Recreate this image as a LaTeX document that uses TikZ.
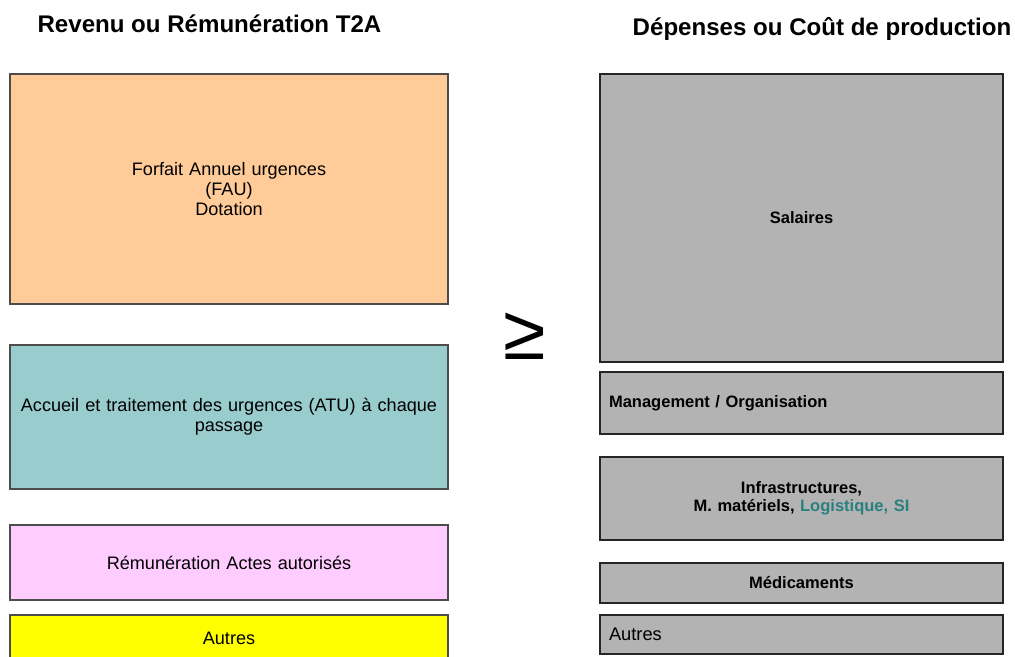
\documentclass[tikz,border=0pt]{standalone}
\usepackage{fontspec}
\setmainfont{Liberation Sans}
\usetikzlibrary{positioning}

\definecolor{fauorange}{HTML}{FFCC99}
\definecolor{atuteal}{HTML}{99CCCC}
\definecolor{actepink}{HTML}{FFCCFF}
\definecolor{autreyellow}{HTML}{FFFF00}
\definecolor{depgray}{HTML}{B3B3B3}
\definecolor{logteal}{HTML}{2A7F7F}

\begin{document}
\begin{tikzpicture}[
  recette/.style={draw=black!70, line width=0.6pt, minimum width=8.76cm,
    text width=8.6cm, align=center, inner sep=0pt,
    font=\fontsize{10.3}{11.4}\selectfont},
  depense/.style={draw=black!85, fill=depgray, line width=0.6pt,
    minimum width=8.06cm, text width=7.7cm, align=center,
    inner xsep=0.18cm, inner ysep=0pt,
    font=\bfseries\fontsize{9.4}{10.3}\selectfont},
  titre/.style={font=\bfseries\fontsize{13.7}{16}\selectfont}]
\useasboundingbox (0,0) rectangle (20.3,-13.14);

% titres
\node[titre] (revenu) at (4.19,-0.48) {Revenu ou Rémunération T2A};
\node[titre] (depenses) at (16.44,-0.58) {Dépenses ou Coût de production};

% recettes
\node[recette, fill=fauorange, minimum height=4.6cm] (fau) at (4.58,-3.78)
  {Forfait Annuel urgences\\(FAU)\\Dotation};
\node[recette, fill=atuteal, minimum height=2.88cm] (atu) at (4.58,-8.34)
  {Accueil et traitement des urgences (ATU) à chaque\\passage};
\node[recette, fill=actepink, minimum height=1.5cm] (actes) at (4.58,-11.25)
  {Rémunération Actes autorisés};
\node[recette, fill=autreyellow, minimum height=0.92cm] (autresR) at (4.58,-12.76)
  {Autres};

\node[font=\fontsize{44}{44}\selectfont] (geq) at (10.5,-6.72) {≥};

% depenses
\node[depense, minimum height=5.76cm] (salaires) at (16.03,-4.36) {Salaires};
\node[depense, minimum height=1.24cm, align=left] (management) at (16.03,-8.06)
  {Management / Organisation};
\node[depense, minimum height=1.66cm] (infra) at (16.03,-9.97)
  {Infrastructures,\\M. matériels, \textcolor{logteal}{Logistique, SI}};
\node[depense, minimum height=0.8cm] (medic) at (16.03,-11.66) {Médicaments};
\node[depense, minimum height=0.78cm, align=left,
  font=\fontsize{10.4}{11}\selectfont] (autresD) at (16.03,-12.69) {Autres};
\end{tikzpicture}
\end{document}
